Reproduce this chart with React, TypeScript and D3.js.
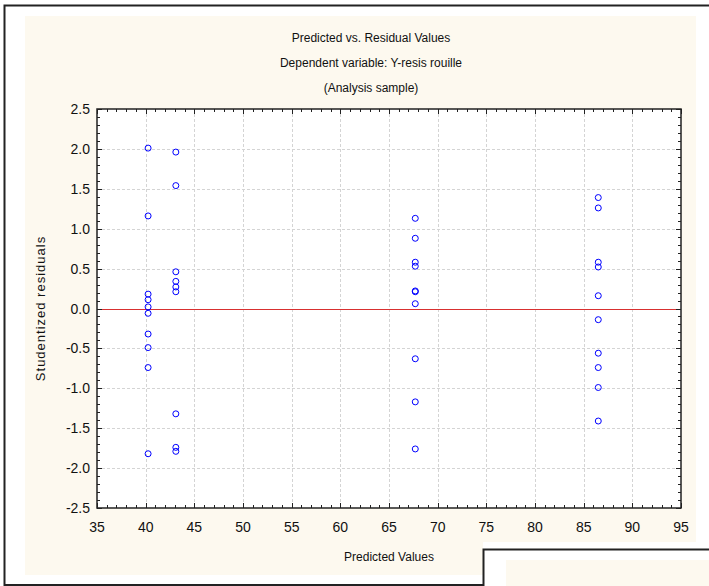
import { useEffect, useRef } from "react";
import * as d3 from "d3";

// predicted value for each column of points
const predicted = [40.25, 43.1, 67.7, 86.5];

// studentized residuals per predicted value
const residuals: number[][] = [
  [2.01, 1.16, 0.18, 0.11, 0.02, -0.06, -0.32, -0.49, -0.74, -1.82],
  [1.96, 1.54, 0.46, 0.34, 0.27, 0.21, -1.32, -1.74, -1.79],
  [1.13, 0.88, 0.58, 0.53, 0.22, 0.21, 0.06, -0.63, -1.17, -1.76],
  [1.39, 1.26, 0.58, 0.52, 0.16, -0.14, -0.56, -0.74, -0.99, -1.41],
];

const xTicks = [35, 40, 45, 50, 55, 60, 65, 70, 75, 80, 85, 90, 95];
const yTicks = [-2.5, -2.0, -1.5, -1.0, -0.5, 0.0, 0.5, 1.0, 1.5, 2.0, 2.5];

const titleLines = [
  "Predicted vs. Residual Values",
  "Dependent variable: Y-resis rouille",
  "(Analysis sample)",
];

interface Point {
  x: number;
  y: number;
}

const points: Point[] = predicted.flatMap((p, i) =>
  residuals[i].map((r) => ({ x: p, y: r })),
);

const W = 709;
const H = 586;
const FONT = "'Liberation Sans', Arial, sans-serif";

export default function App() {
  const svgRef = useRef<SVGSVGElement>(null);

  useEffect(() => {
    if (!svgRef.current) return;
    const svg = d3.select(svgRef.current);
    svg.selectAll("*").remove();

    const plot = { left: 97, top: 109, right: 681, bottom: 508 };

    const x = d3.scaleLinear().domain([35, 95]).range([plot.left, plot.right]);
    const y = d3.scaleLinear().domain([-2.5, 2.5]).range([plot.bottom, plot.top]);

    svg.append("rect").attr("width", W).attr("height", H).attr("fill", "#fff");

    // cream panels
    svg.append("rect").attr("x", 25).attr("y", 16).attr("width", 671).attr("height", 526).attr("fill", "#fdf9ef");
    svg.append("rect").attr("x", 25).attr("y", 540).attr("width", 458).attr("height", 35).attr("fill", "#fdf9ef");
    svg.append("rect").attr("x", 506).attr("y", 560).attr("width", 203).attr("height", 26).attr("fill", "#fdf9ef");

    // window frame
    svg
      .append("path")
      .attr("d", "M709,5.5H4.5V585H483.5V549.5H709")
      .attr("fill", "none")
      .attr("stroke", "#222")
      .attr("stroke-width", 2);

    // plot area
    svg
      .append("rect")
      .attr("x", plot.left)
      .attr("y", plot.top)
      .attr("width", plot.right - plot.left)
      .attr("height", plot.bottom - plot.top)
      .attr("fill", "#fff");

    // grid
    const grid = svg.append("g").attr("stroke", "#d4d4d4").attr("stroke-dasharray", "3,2").attr("stroke-width", 1);
    grid
      .selectAll("line.vx")
      .data(xTicks.slice(1, -1))
      .enter()
      .append("line")
      .attr("x1", (d) => Math.round(x(d)) + 0.5)
      .attr("x2", (d) => Math.round(x(d)) + 0.5)
      .attr("y1", plot.top)
      .attr("y2", plot.bottom);
    grid
      .selectAll("line.hy")
      .data(yTicks.slice(1, -1).filter((d) => d !== 0))
      .enter()
      .append("line")
      .attr("y1", (d) => Math.round(y(d)) + 0.5)
      .attr("y2", (d) => Math.round(y(d)) + 0.5)
      .attr("x1", plot.left)
      .attr("x2", plot.right);

    // zero line
    svg
      .append("line")
      .attr("x1", plot.left)
      .attr("x2", plot.right)
      .attr("y1", Math.round(y(0)) + 0.5)
      .attr("y2", Math.round(y(0)) + 0.5)
      .attr("stroke", "#d83030")
      .attr("stroke-width", 1.2);

    // ticks, inward on all four sides
    const ticks = svg.append("g").attr("stroke", "#222").attr("stroke-width", 1);
    const xMinor = d3.range(35, 96, 1);
    const yMinor = d3.range(-25, 26, 1).map((d) => d / 10);
    xMinor.forEach((v) => {
      const len = v % 5 === 0 ? 5 : 3;
      const px = Math.round(x(v)) + 0.5;
      ticks.append("line").attr("x1", px).attr("x2", px).attr("y1", plot.bottom).attr("y2", plot.bottom - len);
      ticks.append("line").attr("x1", px).attr("x2", px).attr("y1", plot.top).attr("y2", plot.top + len);
    });
    yMinor.forEach((v) => {
      const len = Math.abs(Math.round(v * 10)) % 5 === 0 ? 5 : 3;
      const py = Math.round(y(v)) + 0.5;
      ticks.append("line").attr("y1", py).attr("y2", py).attr("x1", plot.left).attr("x2", plot.left + len);
      ticks.append("line").attr("y1", py).attr("y2", py).attr("x1", plot.right).attr("x2", plot.right - len);
    });

    // frame
    svg
      .append("rect")
      .attr("x", plot.left)
      .attr("y", plot.top)
      .attr("width", plot.right - plot.left)
      .attr("height", plot.bottom - plot.top)
      .attr("fill", "none")
      .attr("stroke", "#222")
      .attr("stroke-width", 1.5);

    // tick labels (plain hyphen for minus, as in the original)
    svg
      .append("g")
      .selectAll("text")
      .data(xTicks)
      .enter()
      .append("text")
      .attr("x", (d) => x(d))
      .attr("y", plot.bottom + 24)
      .attr("text-anchor", "middle")
      .attr("font-family", FONT)
      .attr("font-size", 14)
      .attr("fill", "#111")
      .text((d) => String(d));

    svg
      .append("g")
      .selectAll("text")
      .data(yTicks)
      .enter()
      .append("text")
      .attr("x", plot.left - 7)
      .attr("y", (d) => y(d) + 5)
      .attr("text-anchor", "end")
      .attr("font-family", FONT)
      .attr("font-size", 14)
      .attr("fill", "#111")
      .text((d) => d.toFixed(1));

    // axis titles
    svg
      .append("text")
      .attr("x", (plot.left + plot.right) / 2)
      .attr("y", 561)
      .attr("text-anchor", "middle")
      .attr("font-family", FONT)
      .attr("font-size", 12)
      .attr("fill", "#111")
      .text("Predicted Values");

    svg
      .append("text")
      .attr("transform", `translate(45,${(plot.top + plot.bottom) / 2}) rotate(-90)`)
      .attr("text-anchor", "middle")
      .attr("font-family", FONT)
      .attr("font-size", 13)
      .attr("letter-spacing", 1)
      .attr("fill", "#111")
      .text("Studentized residuals");

    // title
    svg
      .append("g")
      .selectAll("text")
      .data(titleLines)
      .enter()
      .append("text")
      .attr("x", 371)
      .attr("y", (_, i) => 42 + i * 25)
      .attr("text-anchor", "middle")
      .attr("font-family", FONT)
      .attr("font-size", 12)
      .attr("fill", "#111")
      .text((d) => d);

    // points
    svg
      .append("g")
      .selectAll("circle")
      .data(points)
      .enter()
      .append("circle")
      .attr("cx", (d) => x(d.x))
      .attr("cy", (d) => y(d.y))
      .attr("r", 3)
      .attr("fill", "none")
      .attr("stroke", "#0000ff")
      .attr("stroke-width", 1);
  }, []);

  return (
    <svg
      ref={svgRef}
      width={W}
      height={H}
      style={{ position: "absolute", left: 0, top: 0 }}
    />
  );
}
